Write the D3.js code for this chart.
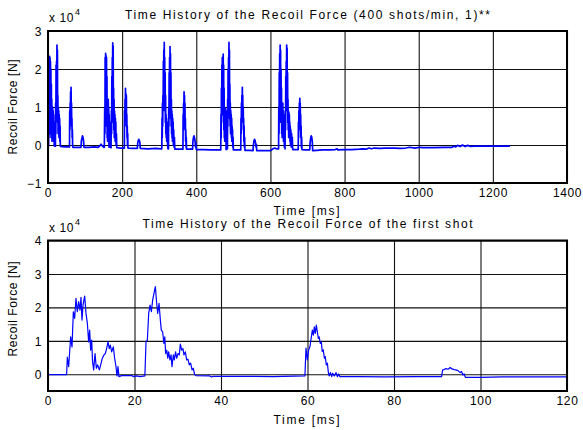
<!DOCTYPE html>
<html>
<head>
<meta charset="utf-8">
<script src="https://cdn.jsdelivr.net/npm/d3@7"></script>
<style>
  html, body { margin: 0; padding: 0; background: #fff; }
  svg { display: block; }
  text { font-family: "Liberation Sans", Arial, sans-serif; fill: #000; }
</style>
</head>
<body>
<svg id="chart" width="583" height="430"></svg>
<script>
// Recoil force in units of 10^4 N, time in ms.
// Full firing sequence, one array per shot plus the settling tail.
const topShot1 = [
  [0,-0.02],[1.5,-0.03],[2,0.9],[2.5,0.2],[3,2.3],[3.6,0.6],[4.2,2.33],[4.8,1.1],[5.4,2.3],[6,0.3],
  [6.6,2.2],[7.2,1.4],[7.8,2.0],[8.4,0.2],[9,1.6],[9.6,0.5],[10.2,1.2],[10.8,0.1],[11.4,0.9],[12,0.3],
  [12.6,1.0],[13.2,0.4],[13.8,0.9],[14.4,0.2],[15,0.8],[15.6,0.1],[16.2,0.6],[16.8,-0.02],[18,-0.03],[20,-0.03],
  [20.6,1.1],[21.2,0.3],[21.8,2.1],[22.4,1.0],[23,2.2],[23.6,1.5],[24.2,2.63],[24.8,1.2],[25.4,2.5],[26,0.6],
  [26.6,1.3],[27.2,0.3],[27.8,1.0],[28.4,0.4],[29,0.9],[29.6,0.2],[30.2,0.8],[30.8,0.3],[31.4,0.7],[32,0.1],
  [32.6,0.5],[33.2,0.0],[34,-0.04],[45,-0.05],[58,-0.05],[58.6,0.9],[59.2,0.4],[59.8,1.1],[60.4,0.8],[61,1.4],
  [61.6,1.0],[62.2,1.52],[62.8,0.9],[63.4,1.1],[64,0.5],[64.6,0.7],[65.2,0.2],[65.8,0.4],[66.4,0.0],[67,-0.06],
  [80,-0.06],[89,-0.06],[90,0.1],[91.5,0.18],[93,0.24],[94.5,0.2],[96,0.1],[97,-0.06],[110,-0.06],[125,-0.05],
  [135,-0.06],[140,-0.02],[143,0.02],[146,-0.02],[150,-0.06]
];
const topShot2 = [
  [152,-0.06],[153,1.0],[153.6,0.3],[154.2,2.3],[154.8,0.8],[155.4,2.41],[156,1.3],[156.6,2.35],[157.2,0.5],[157.8,2.3],
  [158.4,1.0],[159,1.8],[159.6,0.2],[160.2,1.2],[160.8,0.1],[161.4,0.9],[162,0.3],[162.6,1.2],[163.2,0.2],[163.8,1.0],
  [164.4,-0.05],[165,0.8],[165.6,0.1],[166.2,0.6],[167,-0.06],[170,-0.07],[171,0.9],[171.6,0.3],[172.2,1.8],[172.8,0.9],
  [173.4,2.3],[174,1.6],[174.6,2.69],[175.2,1.4],[175.8,2.6],[176.4,0.6],[177,1.5],[177.6,0.4],[178.2,1.2],[178.8,0.2],
  [179.4,0.9],[180,0.3],[180.6,0.8],[181.2,0.1],[181.8,0.7],[182.4,0.2],[183,0.6],[183.6,0.0],[184.5,0.3],[185.5,-0.07],
  [195,-0.08],[206,-0.08],[206.6,0.9],[207.2,0.5],[207.8,1.2],[208.4,0.9],[209,1.49],[209.6,1.0],[210.2,1.35],[210.8,0.7],
  [211.4,1.3],[212,0.5],[212.6,0.8],[213.2,0.2],[213.8,0.5],[214.4,0.0],[215,0.3],[215.6,-0.08],[230,-0.09],[241,-0.09],
  [242,0.05],[243.5,0.12],[245,0.15],[246.5,0.12],[248,0.05],[249,-0.09],[270,-0.1],[290,-0.09],[305,-0.1]
];
const topShot3 = [
  [307,-0.1],[307.6,0.7],[308.2,0.2],[308.8,1.1],[309.4,0.5],[310,1.3],[310.6,0.9],[311.2,2.2],[311.8,1.2],[312.4,2.5],
  [313,1.7],[313.6,2.70],[314.2,1.5],[314.8,2.3],[315.4,0.9],[316,1.9],[316.6,0.6],[317.2,1.3],[317.8,0.3],[318.4,0.8],
  [319,0.2],[319.6,0.7],[320.2,0.1],[320.8,0.6],[321.4,0.2],[322,0.5],[322.6,0.0],[323.5,-0.1],[325,-0.1],[325.6,1.0],
  [326.2,0.5],[326.8,1.9],[327.4,1.2],[328,2.3],[328.6,1.6],[329.2,2.59],[329.8,1.3],[330.4,2.4],[331,0.7],[331.6,1.9],
  [332.2,0.5],[332.8,1.2],[333.4,0.3],[334,0.9],[334.6,0.2],[335.2,0.8],[335.8,0.1],[336.4,0.7],[337,0.3],[337.6,0.6],
  [338.2,0.0],[339,0.4],[340,-0.05],[341,0.2],[342,-0.11],[355,-0.11],[364,-0.11],[364.6,0.8],[365.2,0.4],[365.8,1.1],
  [366.4,0.8],[367,1.40],[367.6,0.9],[368.2,1.3],[368.8,0.6],[369.4,1.1],[370,0.4],[370.6,0.7],[371.2,0.1],[371.8,0.4],
  [372.4,-0.05],[373,0.2],[373.6,-0.11],[385,-0.11],[390,-0.11],[391,0.1],[392.5,0.2],[394,0.24],[395.5,0.18],[397,0.08],
  [398,-0.05],[399,0.05],[400,-0.12],[420,-0.12],[440,-0.13],[455,-0.13]
];
const topShot4 = [
  [466,-0.13],[466.6,0.8],[467.2,0.2],[467.8,1.5],[468.4,0.6],[469,2.1],[469.6,1.0],[470.2,2.3],[470.8,1.4],[471.4,2.2],
  [472,0.8],[472.6,2.39],[473.2,1.2],[473.8,2.1],[474.4,0.4],[475,1.5],[475.6,0.2],[476.2,1.0],[476.8,0.1],[477.4,0.9],
  [478,0.3],[478.6,0.96],[479.2,0.4],[479.8,0.9],[480.4,-0.12],[481.5,0.8],[482.4,0.2],[483.2,0.9],[484,-0.1],[484.6,1.2],
  [485.2,0.5],[485.8,2.0],[486.4,1.1],[487,2.3],[487.6,1.6],[488.2,2.70],[488.8,1.4],[489.4,2.5],[490,0.7],[490.6,1.6],
  [491.2,0.5],[491.8,1.1],[492.4,0.3],[493,0.9],[493.6,0.4],[494.2,0.8],[494.8,0.2],[495.4,0.7],[496,0.1],[496.6,0.5],
  [497.2,0.2],[497.8,0.4],[498.5,-0.05],[499.3,0.2],[500,-0.13],[510,-0.13],[520,-0.13],[520.6,0.7],[521.2,0.3],[521.8,1.1],
  [522.4,0.8],[523,1.3],[523.6,1.0],[524.2,1.52],[524.8,0.9],[525.4,1.3],[526,0.6],[526.6,1.0],[527.2,0.4],[527.8,0.7],
  [528.4,0.1],[529,0.5],[529.6,-0.05],[530.4,0.2],[531.2,-0.14],[545,-0.14],[553,-0.15],[554,0.0],[555.5,0.1],[557,0.15],
  [558.5,0.12],[560,0.05],[561,-0.05],[562,0.02],[563,-0.15],[580,-0.15],[600,-0.15],[607,-0.1],[612,-0.08],[616,-0.1]
];
const topShot5 = [
  [622,-0.1],[622.6,1.0],[623.2,0.3],[623.8,1.9],[624.4,0.8],[625,2.4],[625.6,1.3],[626.2,2.63],[626.8,1.0],[627.4,2.5],
  [628,0.6],[628.6,2.0],[629.2,0.9],[629.8,1.5],[630.4,0.3],[631,1.1],[631.6,0.2],[632.2,0.9],[632.8,0.4],[633.4,1.1],
  [634,0.5],[634.6,0.9],[635.2,0.1],[635.8,0.8],[636.4,0.3],[637,0.7],[637.6,-0.05],[638.5,0.4],[639.4,-0.1],[640.2,0.9],
  [640.8,0.4],[641.4,1.8],[642,1.1],[642.6,2.2],[643.2,1.5],[643.8,2.63],[644.4,1.6],[645,2.55],[645.6,0.9],[646.2,1.9],
  [646.8,0.6],[647.4,1.2],[648,0.4],[648.6,0.9],[649.2,0.2],[649.8,0.85],[650.4,0.3],[651,0.8],[651.6,0.2],[652.2,0.6],
  [652.8,0.1],[653.4,0.5],[654,0.0],[655,0.4],[656,-0.05],[657,0.3],[658,-0.05],[659,0.2],[660,-0.12],[670,-0.12],
  [675,-0.12],[675.6,0.6],[676.2,0.2],[676.8,0.9],[677.4,0.5],[678,1.1],[678.6,0.8],[679.2,1.23],[679.8,0.7],[680.4,1.1],
  [681,0.4],[681.6,0.8],[682.2,0.2],[682.8,0.5],[683.4,-0.05],[684.2,0.2],[685,-0.12],[695,-0.13],[706,-0.13],[707,0.05],
  [708.5,0.18],[710,0.24],[711.5,0.2],[713,0.08],[714,-0.15],[725,-0.14]
];
const topTail = [
  [740,-0.13],[760,-0.13],[775,-0.12],[780,-0.1],[782,-0.13],[800,-0.12],[820,-0.12],[840,-0.11],[850,-0.1],[858,-0.11],
  [866,-0.08],[872,-0.1],[880,-0.08],[895,-0.09],[910,-0.08],[935,-0.08],[950,-0.09],[965,-0.08],[975,-0.06],[990,-0.08],
  [1003,-0.06],[1010,-0.07],[1040,-0.07],[1070,-0.06],[1090,-0.06],[1095,-0.03],[1100,-0.05],[1105,-0.01],[1112,-0.04],[1118,0.0],
  [1125,-0.04],[1132,-0.01],[1140,-0.04],[1150,-0.03],[1180,-0.03],[1210,-0.03],[1246,-0.03]
];

// First shot at higher time resolution.
const firstShot = [
  [0,-0.01],[2,-0.01],[4.3,-0.01],[4.47,0.51],[4.78,0.23],[5.24,1.12],[5.55,0.82],[5.86,1.87],[6.16,1.67],[6.47,2.27],
  [6.78,1.87],[7.09,2.17],[7.4,1.92],[7.63,2.30],[7.86,1.62],[8.1,2.07],[8.3,2.22],[8.48,2.34],[8.79,1.82],[9.1,1.52],
  [9.4,0.97],[9.63,1.32],[9.86,0.72],[10.1,1.02],[10.3,0.38],[10.56,0.13],[10.87,0.62],[11.18,0.18],[11.48,0.28],[11.87,0.13],
  [12.18,0.28],[12.56,0.48],[12.95,0.58],[13.25,0.62],[13.56,0.77],[13.87,0.97],[14.18,0.77],[14.41,0.87],[14.72,0.67],[15.1,0.82],
  [15.41,0.48],[15.72,0.23],[15.95,-0.05],[16.18,0.23],[16.41,-0.07],[17,-0.04],[19.35,-0.04],[19.7,-0.07],[20.5,-0.05],[21.3,-0.07],
  [22.4,-0.05],[22.66,0.97],[22.97,1.02],[23.28,1.82],[23.6,2.07],[23.9,1.87],[24.2,2.22],[24.5,2.42],[24.82,2.62],[25.1,2.17],
  [25.36,1.82],[25.67,2.12],[25.98,1.62],[26.2,1.32],[26.5,1.27],[26.8,0.92],[27.0,1.12],[27.2,0.62],[27.45,0.72],[27.7,0.48],
  [27.9,0.67],[28.2,0.43],[28.45,0.58],[28.67,0.23],[28.98,0.58],[29.2,0.43],[29.5,0.67],[29.75,0.48],[30.05,0.62],[30.36,0.58],
  [30.6,0.90],[30.9,0.72],[31.2,0.77],[31.44,0.58],[31.75,0.67],[32.06,0.43],[32.36,0.45],[32.67,0.28],[32.98,0.33],[33.3,0.13],
  [33.6,0.18],[33.9,-0.01],[34.2,-0.04],[37.4,-0.05],[37.8,-0.08],[38.2,-0.06],[45,-0.06],[52,-0.07],[59.4,-0.05],[59.65,0.78],
  [59.96,0.43],[60.27,0.73],[60.58,0.83],[60.89,1.12],[61.12,1.32],[61.35,1.17],[61.58,1.42],[61.8,1.22],[62.04,1.47],[62.27,1.27],
  [62.5,1.07],[62.7,1.12],[62.96,0.92],[63.2,0.97],[63.4,0.68],[63.65,0.73],[63.9,0.48],[64.1,0.53],[64.35,0.28],[64.6,0.33],
  [64.8,0.08],[65.0,-0.05],[65.3,0.05],[65.6,-0.07],[65.8,0.03],[66.2,-0.05],[66.6,0.05],[66.9,-0.07],[67.2,0.01],[67.5,-0.07],
  [72,-0.07],[78,-0.08],[85,-0.07],[91.0,-0.07],[91.25,0.13],[91.6,0.14],[92.0,0.17],[92.5,0.15],[93.0,0.20],[93.4,0.16],
  [93.9,0.14],[94.3,0.13],[94.8,0.11],[95.3,0.05],[95.65,0.08],[95.9,-0.02],[96.2,0.01],[96.5,-0.09],[100,-0.09],[105,-0.08],
  [112,-0.08],[120,-0.08]
];

const topXTicks = [0, 200, 400, 600, 800, 1000, 1200, 1400];
const topYTicks = [-1, 0, 1, 2, 3];
const bottomXTicks = [0, 20, 40, 60, 80, 100, 120];
const bottomYTicks = [0, 1, 2, 3, 4];

const topTitle = "Time History of the Recoil Force (400 shots/min, 1)**";
const bottomTitle = "Time History of the Recoil Force of the first shot";
const xLabel = "Time [ms]";
const yLabel = "Recoil Force [N]";

const svg = d3.select("#chart");

function panel(cfg) {
  const { left, right, top, bottom } = cfg.box;
  const x = d3.scaleLinear().domain(cfg.xDomain).range([left, right]);
  const y = d3.scaleLinear().domain(cfg.yDomain).range([bottom, top]);
  const g = svg.append("g");

  // grid lines + tick labels through d3 axes
  const gx = g.append("g")
    .attr("transform", `translate(0,${bottom})`)
    .call(d3.axisBottom(x).tickValues(cfg.xTicks).tickSize(-(bottom - top)).tickPadding(5).tickFormat(d3.format("d")));
  const gy = g.append("g")
    .attr("transform", `translate(${left},0)`)
    .call(d3.axisLeft(y).tickValues(cfg.yTicks).tickSize(-(right - left)).tickPadding(6).tickFormat(d3.format("d")));
  [gx, gy].forEach(a => {
    a.select(".domain").remove();
    a.selectAll(".tick line").attr("stroke", "#111").attr("stroke-width", 1.1);
    a.selectAll(".tick text")
      .attr("font-size", 12)
      .attr("letter-spacing", "0.6px")
      .attr("fill", "#000");
  });
  gx.selectAll(".tick text").attr("dy", null).attr("y", cfg.xTickBaseline - bottom).attr("dominant-baseline", "auto");
  gy.selectAll(".tick text").attr("dy", "0.36em");

  const clipId = cfg.id + "-clip";
  svg.append("clipPath").attr("id", clipId)
    .append("rect").attr("x", left).attr("y", top).attr("width", right - left).attr("height", bottom - top);

  const line = d3.line().x(d => x(d[0])).y(d => y(d[1]));
  g.append("path")
    .datum(cfg.data)
    .attr("clip-path", `url(#${clipId})`)
    .attr("fill", "none")
    .attr("stroke", "#0000ff")
    .attr("stroke-width", cfg.lineWidth)
    .attr("stroke-linejoin", "round")
    .attr("d", line);

  g.append("rect")
    .attr("x", left).attr("y", top)
    .attr("width", right - left).attr("height", bottom - top)
    .attr("fill", "none").attr("stroke", "#000").attr("stroke-width", 2);

  // exponent marker
  const ex = g.append("text").attr("x", left + 1).attr("y", cfg.expBaseline).attr("font-size", 12).attr("letter-spacing", "0.6px");
  ex.append("tspan").text("x 10");
  ex.append("tspan").attr("font-size", 9).attr("dy", -7).attr("dx", 1).text("4");

  g.append("text")
    .attr("x", (left + right) / 2).attr("y", cfg.titleBaseline)
    .attr("text-anchor", "middle").attr("font-size", 12)
    .attr("textLength", cfg.titleWidth).attr("lengthAdjust", "spacing")
    .text(cfg.title);

  g.append("text")
    .attr("x", (left + right) / 2 - 1).attr("y", cfg.xLabelBaseline)
    .attr("text-anchor", "middle").attr("font-size", 12)
    .attr("textLength", 66).attr("lengthAdjust", "spacing")
    .text(xLabel);

  g.append("text")
    .attr("transform", `translate(16.5,${cfg.yLabelCenter}) rotate(-90)`)
    .attr("text-anchor", "middle").attr("font-size", 12)
    .attr("textLength", 95).attr("lengthAdjust", "spacing")
    .text(yLabel);
}

panel({
  id: "top",
  box: { left: 48, right: 567, top: 31, bottom: 183 },
  xDomain: [0, 1400], yDomain: [-1, 3],
  xTicks: topXTicks, yTicks: topYTicks,
  data: [].concat(topShot1, topShot2, topShot3, topShot4, topShot5, topTail),
  lineWidth: 1.7,
  xTickBaseline: 197, expBaseline: 22, titleBaseline: 18.5, titleWidth: 365,
  xLabelBaseline: 215, yLabelCenter: 107,
  title: topTitle
});

panel({
  id: "bottom",
  box: { left: 48, right: 567, top: 240.5, bottom: 391 },
  xDomain: [0, 120], yDomain: [-0.5, 4],
  xTicks: bottomXTicks, yTicks: bottomYTicks,
  data: firstShot,
  lineWidth: 1.2,
  xTickBaseline: 405, expBaseline: 231.5, titleBaseline: 227.5, titleWidth: 330,
  xLabelBaseline: 423.5, yLabelCenter: 309,
  title: bottomTitle
});
</script>
</body>
</html>
